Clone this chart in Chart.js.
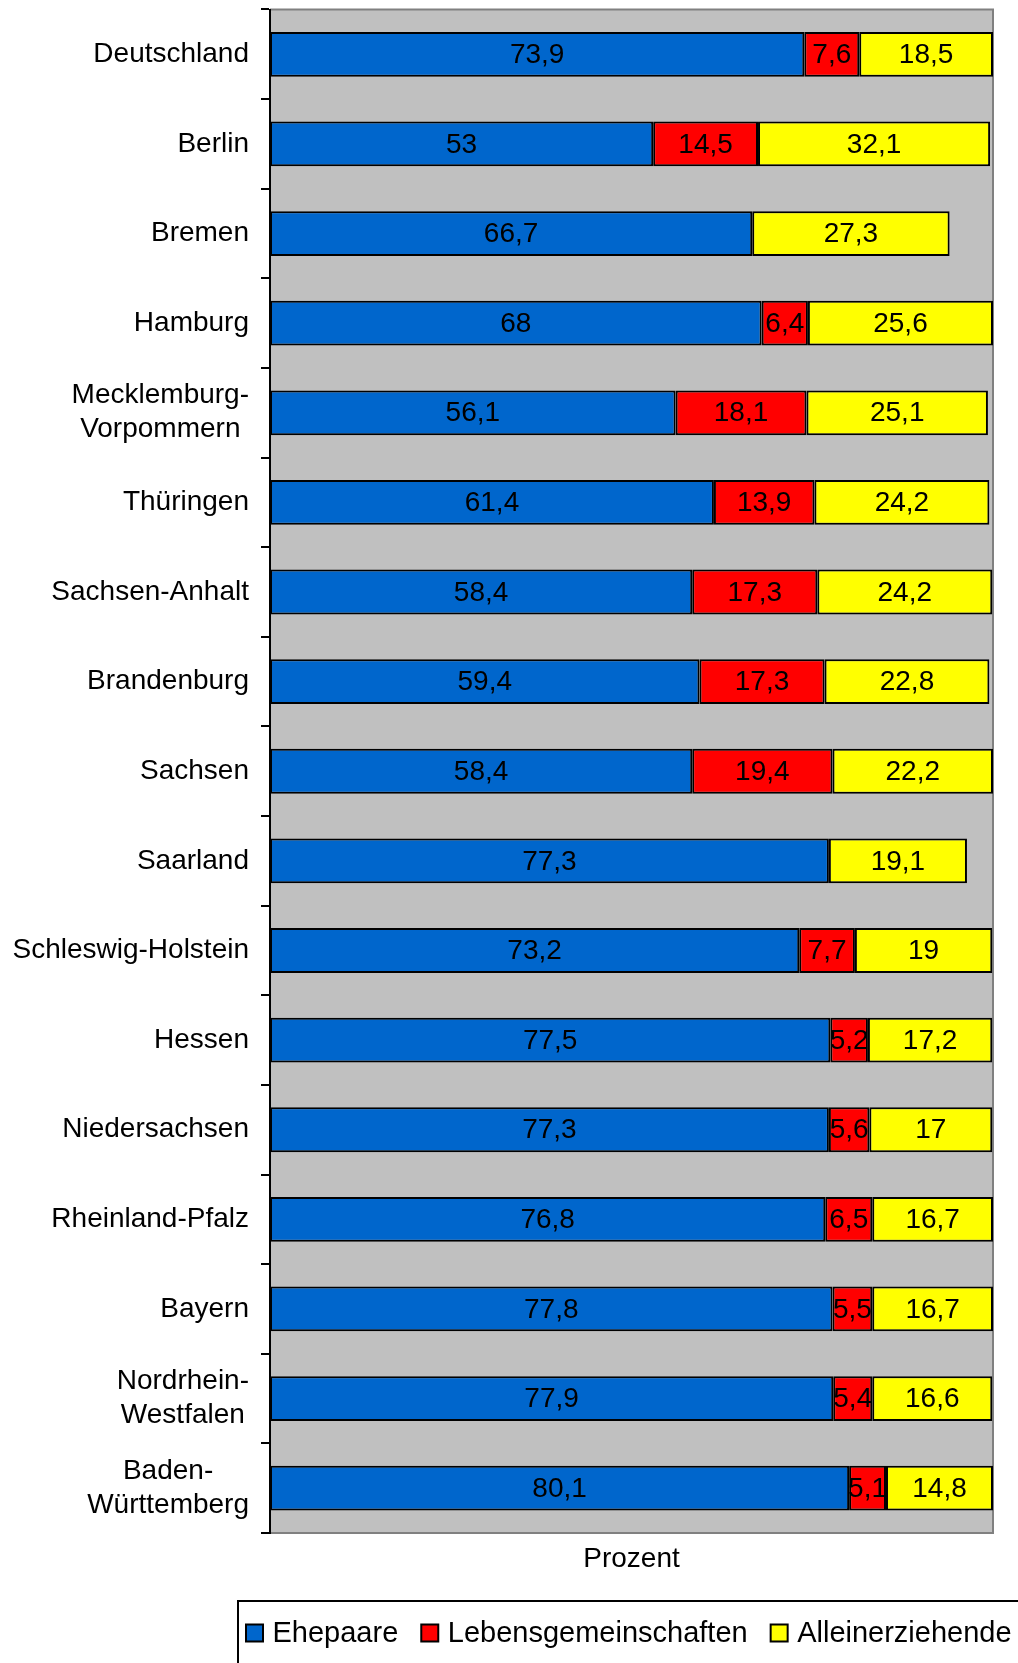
<!DOCTYPE html>
<html>
<head>
<meta charset="utf-8">
<script src="https://cdn.jsdelivr.net/npm/chart.js@4.4.1/dist/chart.umd.min.js"></script>
<style>
  html, body { margin: 0; padding: 0; background: #fff; }
  #wrap { width: 1018px; height: 1663px; position: relative; }
</style>
</head>
<body>
<div id="wrap"><canvas id="chart"></canvas></div>
<script>
// categories, top to bottom
const laender = [
    "Deutschland", "Berlin", "Bremen", "Hamburg", ["Mecklemburg-", "Vorpommern"],
    "Thüringen", "Sachsen-Anhalt", "Brandenburg", "Sachsen", "Saarland",
    "Schleswig-Holstein", "Hessen", "Niedersachsen", "Rheinland-Pfalz", "Bayern",
    ["Nordrhein-", "Westfalen"], ["Baden-", "Württemberg"]
];

const ehepaare = [73.9, 53, 66.7, 68, 56.1, 61.4, 58.4, 59.4, 58.4, 77.3, 73.2, 77.5, 77.3, 76.8, 77.8, 77.9, 80.1];
const lebensgemeinschaften = [7.6, 14.5, null, 6.4, 18.1, 13.9, 17.3, 17.3, 19.4, null, 7.7, 5.2, 5.6, 6.5, 5.5, 5.4, 5.1];
const alleinerziehende = [18.5, 32.1, 27.3, 25.6, 25.1, 24.2, 24.2, 22.8, 22.2, 19.1, 19, 17.2, 17, 16.7, 16.7, 16.6, 14.8];

const FONT = '"Liberation Sans", Arial, sans-serif';

// grey plot background and frame
const plotFrame = {
    id: "plotFrame",
    beforeDraw(chart) {
        const { ctx, chartArea: a } = chart;
        ctx.save();
        ctx.fillStyle = "#c0c0c0";
        ctx.fillRect(a.left, a.top, a.right - a.left, a.bottom - a.top);
        ctx.strokeStyle = "#808080";
        ctx.lineWidth = 2;
        ctx.beginPath();
        ctx.moveTo(a.left, a.top);
        ctx.lineTo(a.right, a.top);
        ctx.lineTo(a.right, a.bottom);
        ctx.lineTo(a.left, a.bottom);
        ctx.stroke();
        ctx.restore();
    }
};

// category labels: block right aligned, lines centred within it
const catLabels = {
    id: "catLabels",
    afterDraw(chart) {
        const { ctx } = chart;
        const y = chart.scales.y;
        ctx.save();
        ctx.font = "28px " + FONT;
        ctx.fillStyle = "#000";
        ctx.textAlign = "center";
        ctx.textBaseline = "middle";
        chart.data.labels.forEach((lab, i) => {
            const lines = Array.isArray(lab) ? lab : [lab];
            const w = Math.max(...lines.map(l => ctx.measureText(l).width));
            const cx = 249 - w / 2;
            const cy = y.getPixelForTick(i);
            lines.forEach((l, j) => {
                ctx.fillText(l, cx, cy + (j - (lines.length - 1) / 2) * 34);
            });
        });
        ctx.restore();
    }
};

// values in the middle of each segment
const valueLabels = {
    id: "valueLabels",
    afterDatasetsDraw(chart) {
        const { ctx } = chart;
        ctx.save();
        ctx.font = "28px " + FONT;
        ctx.fillStyle = "#000";
        ctx.textAlign = "center";
        ctx.textBaseline = "middle";
        chart.data.datasets.forEach((ds, di) => {
            chart.getDatasetMeta(di).data.forEach((bar, i) => {
                const v = ds.data[i];
                if (v == null) return;
                ctx.fillText(String(v).replace(".", ","), (bar.x + bar.base) / 2, bar.y + 1);
            });
        });
        ctx.restore();
    }
};

// boxed legend at the bottom, running off the right edge
const boxLegend = {
    id: "boxLegend",
    afterDraw(chart) {
        const { ctx } = chart;
        ctx.save();
        ctx.strokeStyle = "#000";
        ctx.lineWidth = 2;
        ctx.strokeRect(238, 1601, 820, 100);
        ctx.font = "29px " + FONT;
        ctx.textBaseline = "middle";
        let x = 246;
        const cy = 1633;
        chart.data.datasets.forEach(ds => {
            ctx.fillStyle = ds.backgroundColor;
            ctx.fillRect(x, cy - 8.5, 17, 17);
            ctx.strokeRect(x, cy - 8.5, 17, 17);
            x += 17 + 9.5;
            ctx.fillStyle = "#000";
            ctx.fillText(ds.label, x, cy + 1);
            x += ctx.measureText(ds.label).width + 23;
        });
        ctx.restore();
    }
};

new Chart(document.getElementById("chart"), {
    type: "bar",
    data: {
        labels: laender,
        datasets: [
            { label: "Ehepaare", data: ehepaare, backgroundColor: "#0066cc" },
            { label: "Lebensgemeinschaften", data: lebensgemeinschaften, backgroundColor: "#ff0000" },
            { label: "Alleinerziehende", data: alleinerziehende, backgroundColor: "#ffff00" }
        ]
    },
    options: {
        indexAxis: "y",
        responsive: true,
        maintainAspectRatio: false,
        animation: false,
        layout: { padding: { top: 9.5, right: 25, bottom: 65.5, left: 0 } },
        datasets: {
            bar: {
                borderColor: "#000",
                borderWidth: 2,
                borderSkipped: false,
                categoryPercentage: 1,
                barPercentage: 0.5
            }
        },
        scales: {
            x: {
                stacked: true,
                min: 0,
                max: 100,
                grid: { display: false, drawTicks: false },
                border: { display: false },
                ticks: { display: false },
                title: {
                    display: true,
                    text: "Prozent",
                    color: "#000",
                    font: { family: FONT, size: 28 },
                    padding: { top: 9.2, bottom: 21.7 }
                }
            },
            y: {
                stacked: true,
                grid: {
                    offset: true,
                    drawOnChartArea: false,
                    tickLength: 9,
                    color: "#000",
                    lineWidth: 2
                },
                border: { color: "#000", width: 2 },
                ticks: { display: false },
                afterFit(scale) { scale.width = 270; }
            }
        },
        plugins: {
            legend: { display: false },
            tooltip: { enabled: false }
        }
    },
    plugins: [plotFrame, catLabels, valueLabels, boxLegend]
});
</script>
</body>
</html>
